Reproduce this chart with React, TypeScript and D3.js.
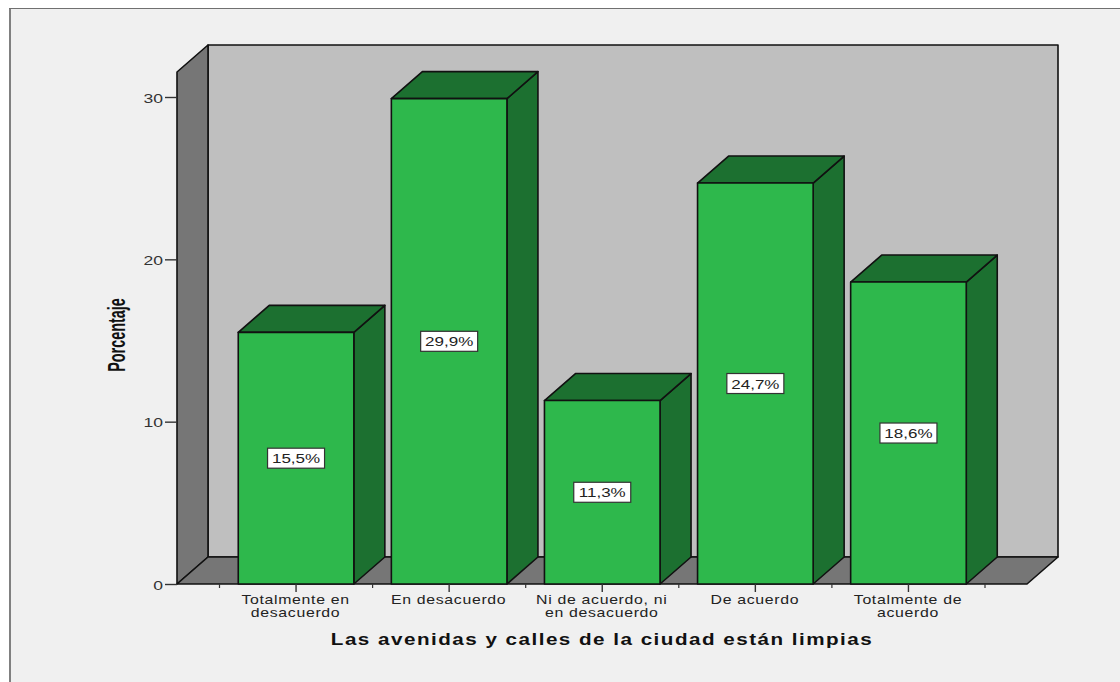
import { useEffect, useRef } from "react";
import * as d3 from "d3";

const categories = [
  ["Totalmente en", "desacuerdo"],
  ["En desacuerdo"],
  ["Ni de acuerdo, ni", "en desacuerdo"],
  ["De acuerdo"],
  ["Totalmente de", "acuerdo"],
];
const percentages = [15.5, 29.9, 11.3, 24.7, 18.6];
const yTicks = [0, 10, 20, 30];
const xTitle = "Las avenidas y calles de la ciudad están limpias";
const yTitle = "Porcentaje";

const WIDTH = 1120;
const HEIGHT = 682;
const DEPTH_X = 31;
const DEPTH_Y = -27;
const FONT = "'Liberation Sans', Arial, sans-serif";

export default function App() {
  const svgRef = useRef<SVGSVGElement>(null);

  useEffect(() => {
    if (!svgRef.current) return;
    const svg = d3.select(svgRef.current);
    svg.selectAll("*").remove();

    const y = d3.scaleLinear().domain([0, 30]).range([584, 97]);
    const x = d3
      .scaleBand<number>()
      .domain(d3.range(categories.length))
      .range([219.5, 985]);
    const barWidth = x.bandwidth() * 0.755;
    const left = 177;
    const right = 1027;
    const wallTop = 72;

    const poly = (pts: number[][], fill: string) =>
      svg
        .append("path")
        .attr("d", d3.line()(pts as [number, number][]) + "Z")
        .attr("fill", fill)
        .attr("stroke", "#111")
        .attr("stroke-width", 1.6)
        .attr("stroke-linejoin", "round");

    // the source image is stretched sideways, so text gets a horizontal scale
    const wideText = (cx: number, by: number, scale: number, size: number) =>
      svg
        .append("text")
        .attr("transform", `translate(${cx},${by}) scale(${scale},1)`)
        .attr("text-anchor", "middle")
        .attr("font-family", FONT)
        .attr("font-size", size);

    // background + frame
    svg.append("rect").attr("x", 10).attr("y", 9).attr("width", WIDTH - 10).attr("height", HEIGHT - 9).attr("fill", "#f0f0f0");
    svg.append("line").attr("x1", 10).attr("x2", 10).attr("y1", 8).attr("y2", HEIGHT).attr("stroke", "#808080").attr("stroke-width", 2);
    svg.append("line").attr("x1", 9).attr("x2", WIDTH).attr("y1", 8.5).attr("y2", 8.5).attr("stroke", "#707070").attr("stroke-width", 1.2);

    // 3d box walls
    poly([[left + DEPTH_X, wallTop + DEPTH_Y], [right + DEPTH_X, wallTop + DEPTH_Y], [right + DEPTH_X, y(0) + DEPTH_Y], [left + DEPTH_X, y(0) + DEPTH_Y]], "#bfbfbf");
    poly([[left, wallTop], [left + DEPTH_X, wallTop + DEPTH_Y], [left + DEPTH_X, y(0) + DEPTH_Y], [left, y(0)]], "#767676");
    poly([[left, y(0)], [left + DEPTH_X, y(0) + DEPTH_Y], [right + DEPTH_X, y(0) + DEPTH_Y], [right, y(0)]], "#767676");

    // bars
    percentages.forEach((v, i) => {
      const x0 = x(i)! + (x.bandwidth() - barWidth) / 2;
      const x1 = x0 + barWidth;
      const top = y(v);
      const base = y(0);
      poly([[x1, top], [x1 + DEPTH_X, top + DEPTH_Y], [x1 + DEPTH_X, base + DEPTH_Y], [x1, base]], "#1c7030");
      poly([[x0, top], [x0 + DEPTH_X, top + DEPTH_Y], [x1 + DEPTH_X, top + DEPTH_Y], [x1, top]], "#1c7030");
      poly([[x0, top], [x1, top], [x1, base], [x0, base]], "#2eb84c");
    });

    // percent labels
    percentages.forEach((v, i) => {
      const cx = x(i)! + x.bandwidth() / 2;
      const cy = y(v / 2);
      svg.append("rect").attr("x", cx - 28.5).attr("y", cy - 10).attr("width", 57).attr("height", 20).attr("fill", "#fff").attr("stroke", "#333").attr("stroke-width", 1.2);
      wideText(cx, cy + 5, 1.31, 13)
        .attr("fill", "#222")
        .text(`${v.toFixed(1).replace(".", ",")}%`);
    });

    // y axis
    const yAxis = svg
      .append("g")
      .attr("transform", `translate(${left},0)`)
      .call(d3.axisLeft(y).tickValues(yTicks).tickSize(12).tickPadding(1).tickFormat((d) => `${d}`));
    yAxis.select(".domain").remove();
    yAxis.selectAll("line").attr("stroke", "#333").attr("stroke-width", 1.4);
    yAxis
      .selectAll("text")
      .attr("x", -14 / 1.35)
      .attr("y", 1)
      .attr("transform", "scale(1.35,1)")
      .attr("font-family", FONT)
      .attr("font-size", 13)
      .attr("fill", "#333");

    // x ticks: long at the centres, short at the band edges
    const baseY = y(0);
    d3.range(categories.length).forEach((i) => {
      const cx = x(i)! + x.bandwidth() / 2;
      svg.append("line").attr("x1", cx).attr("x2", cx).attr("y1", baseY).attr("y2", baseY + 8).attr("stroke", "#333").attr("stroke-width", 1.4);
    });
    d3.range(categories.length + 1).forEach((i) => {
      const ex = 219.5 + i * x.step();
      svg.append("line").attr("x1", ex).attr("x2", ex).attr("y1", baseY).attr("y2", baseY + 4).attr("stroke", "#333").attr("stroke-width", 1.2);
    });

    // x category labels
    categories.forEach((lines, i) => {
      const cx = x(i)! + x.bandwidth() / 2 - 0.5;
      const label = wideText(cx, 604, 1.22, 13).attr("letter-spacing", 0.55).attr("fill", "#222");
      lines.forEach((t, j) => {
        label.append("tspan").attr("x", 0).attr("y", j * 12.7).text(t);
      });
    });

    // axis titles
    wideText(602, 645, 1.29, 16)
      .attr("font-weight", "bold")
      .attr("letter-spacing", 1.15)
      .attr("fill", "#111")
      .text(xTitle);
    svg
      .append("text")
      .attr("transform", "translate(125,335) rotate(-90) scale(0.6,1)")
      .attr("text-anchor", "middle")
      .attr("font-family", FONT)
      .attr("font-weight", "bold")
      .attr("font-size", 24)
      .attr("fill", "#111")
      .text(yTitle);
  }, []);

  return (
    <svg
      ref={svgRef}
      width={WIDTH}
      height={HEIGHT}
      style={{ position: "absolute", left: 0, top: 0, background: "#fff" }}
    />
  );
}
